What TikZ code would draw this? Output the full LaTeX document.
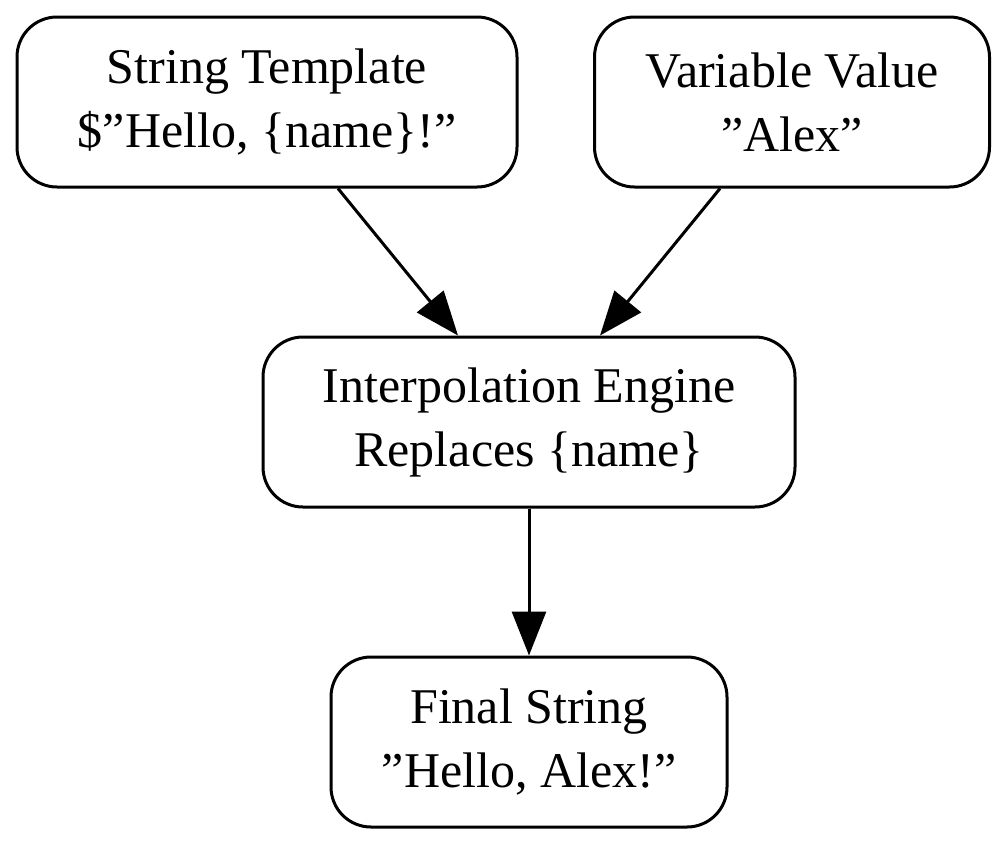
\documentclass[tikz,border=0pt]{standalone}
\usepackage{fontspec}
\setmainfont{Liberation Serif}
\usetikzlibrary{arrows.meta}
\begin{document}
\begin{tikzpicture}[x=1pt,y=-1pt,
 box/.style={draw,line width=3pt,rounded corners=40pt,align=center,inner sep=0pt,
   font=\fontsize{50}{64}\selectfont},
 arr/.style={line width=3pt,-{Triangle[length=44pt,width=34pt]}}]
\useasboundingbox (0,0) rectangle (1006,846);
\node[box,minimum width=500pt,minimum height=170pt] (A) at (267,102) {String Template\\\$"Hello, \{name\}!"};
\node[box,minimum width=395pt,minimum height=170pt] (B) at (792,102) {Variable Value\\"Alex"};
\node[box,minimum width=532pt,minimum height=170pt] (C) at (529,422) {Interpolation Engine\\Replaces \{name\}};
\node[box,minimum width=396pt,minimum height=170pt] (D) at (529,742) {Final String\\"Hello, Alex!"};
\draw[arr] ([xshift=71pt]A.south) -- ([xshift=-71pt]C.north);
\draw[arr] ([xshift=-72pt]B.south) -- ([xshift=71pt]C.north);
\draw[arr] (C.south) -- (D.north);
\end{tikzpicture}
\end{document}
